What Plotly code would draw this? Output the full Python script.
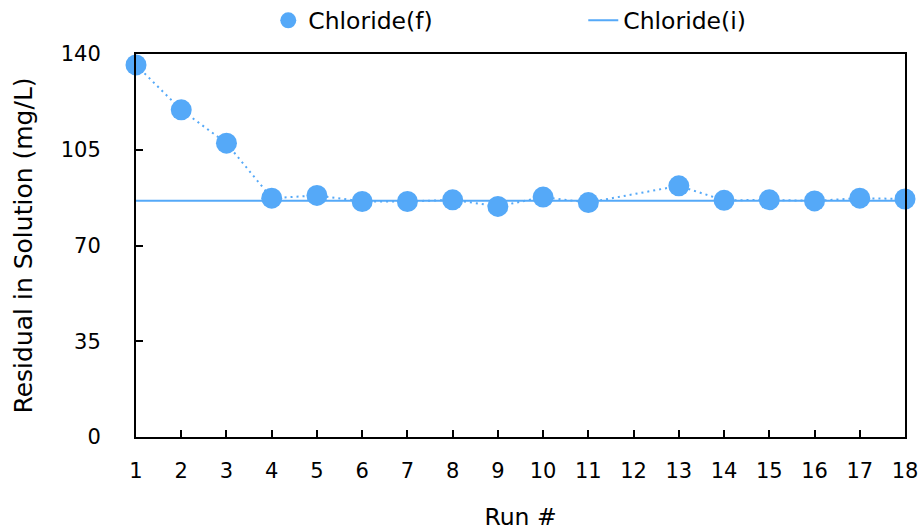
import plotly.graph_objects as go

# Data
runs = [1, 2, 3, 4, 5, 6, 7, 8, 9, 10, 11, 13, 14, 15, 16, 17, 18]
chloride_f = [136.0, 119.6, 107.4, 87.3, 88.3, 86.1, 86.1, 86.7, 84.3, 87.7, 85.7,
              91.8, 86.5, 86.7, 86.3, 87.3, 87.0]
chloride_i_runs = [1, 18]
chloride_i = [86.4, 86.4]
x_ticks = list(range(1, 19))
y_ticks = [0, 35, 70, 105, 140]

BLUE = "#55A9F8"
FONT = "DejaVu Sans, Liberation Sans, Arial, sans-serif"

fig = go.Figure()

fig.add_trace(go.Scatter(
    x=chloride_i_runs, y=chloride_i, mode="lines", name="Chloride(i)",
    line=dict(color=BLUE, width=2), cliponaxis=False,
))
fig.add_trace(go.Scatter(
    x=runs, y=chloride_f, mode="lines", showlegend=False,
    line=dict(color=BLUE, width=2, dash="2px,4px"), cliponaxis=False,
    hoverinfo="skip",
))
fig.add_trace(go.Scatter(
    x=runs, y=chloride_f, mode="markers", name="Chloride(f)",
    marker=dict(color=BLUE, size=21), cliponaxis=False,
))

fig.update_layout(
    width=922, height=531,
    margin=dict(l=136, r=17, t=54, b=93.5, autoexpand=False),
    paper_bgcolor="white", plot_bgcolor="white",
    font=dict(family=FONT, size=21, color="black"),
    showlegend=True,
    legend=dict(
        orientation="h", x=0.172, xanchor="left", y=1.03, yanchor="bottom",
        traceorder="reversed", font=dict(size=23.5),
        entrywidth=270, entrywidthmode="pixels",
        bgcolor="rgba(0,0,0,0)",
    ),
    xaxis=dict(
        range=[1, 18], tickmode="array", tickvals=x_ticks,
        ticks="inside", ticklen=7, tickwidth=2, tickcolor="black",
        showline=True, linecolor="black", linewidth=2, mirror=True,
        showgrid=False, zeroline=False,
        title=dict(text="Run #", standoff=36, font=dict(size=23.5)),
        ticklabelstandoff=14,
    ),
    yaxis=dict(
        range=[0, 140], tickmode="array", tickvals=y_ticks,
        ticks="inside", ticklen=7, tickwidth=2, tickcolor="black",
        showline=True, linecolor="black", linewidth=2, mirror=True,
        showgrid=False, zeroline=False,
        title=dict(text="Residual in Solution (mg/L)", standoff=21, font=dict(size=25)),
        ticklabelstandoff=29,
    ),
)

fig.write_html(
    "out.html",
    config={"displayModeBar": False},
    post_script="document.body.style.margin='0';document.body.style.overflow='hidden';",
)
